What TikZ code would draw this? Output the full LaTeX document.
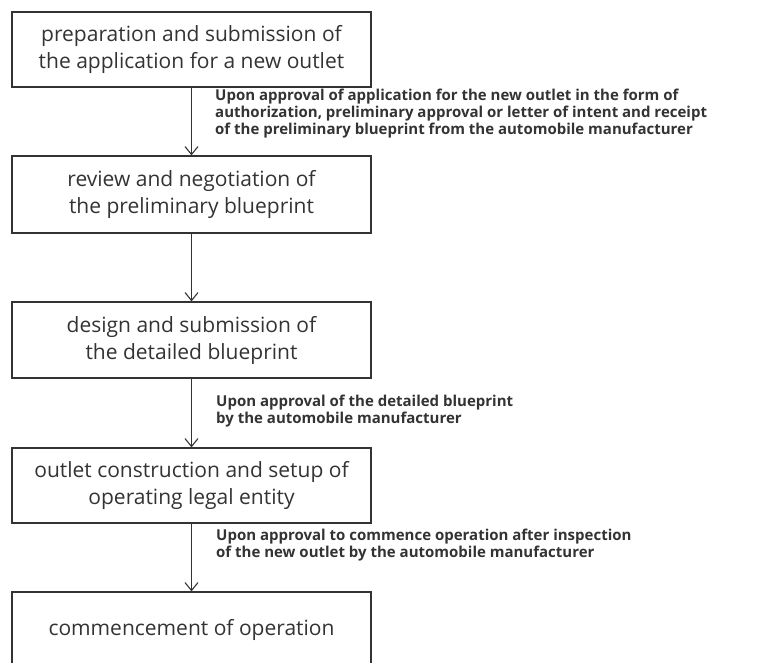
\documentclass[tikz,border=0pt]{standalone}
\usepackage{fontspec}
\setmainfont{Open Sans}
\usetikzlibrary{arrows.meta}
\definecolor{ink}{HTML}{333333}
\begin{document}
\begin{tikzpicture}[x=1pt,y=1pt,
  stepbox/.style={draw=ink,line width=1.2pt,minimum width=359pt,inner sep=0pt,align=center,
     font=\fontsize{21}{27}\selectfont,text=ink},
  conn/.style={draw=ink,line width=1.1pt,-{Straight Barb[length=8pt,width=13pt,line width=1.1pt]}},
  cond/.style={anchor=north west,align=left,inner sep=0pt,font=\bfseries\fontsize{15}{16.8}\selectfont,text=ink}]
\useasboundingbox (0,0) rectangle (770,-663);
\begin{scope}
\clip (0,0) rectangle (770,-663);
\node[stepbox,minimum height=75pt] (b1) at (191.5,-49.5) {preparation and submission of\\the application for a new outlet};
\node[stepbox,minimum height=77pt] (b2) at (191.5,-194.5) {review and negotiation of\\the preliminary blueprint};
\node[stepbox,minimum height=76pt] (b3) at (191.5,-340) {design and submission of\\the detailed blueprint};
\node[stepbox,minimum height=75pt] (b4) at (191.5,-485.5) {outlet construction and setup of\\operating legal entity};
\node[stepbox,minimum height=150pt] (b5) at (191.5,-667) {};
\node[font=\fontsize{21}{27}\selectfont,text=ink] (t5) at (191.5,-630) {commencement of operation};
\end{scope}
\draw[conn] (b1.south) -- (b2.north);
\draw[conn] (b2.south) -- (b3.north);
\draw[conn] (b3.south) -- (b4.north);
\draw[conn] (b4.south) -- (b5.north);
\node[cond] (c1) at (215,-89) {Upon approval of application for the new outlet in the form of\\authorization, preliminary approval or letter of intent and receipt\\of the preliminary blueprint from the automobile manufacturer};
\node[cond] (c2) at (216,-395) {Upon approval of the detailed blueprint\\by the automobile manufacturer};
\node[cond] (c3) at (216,-529) {Upon approval to commence operation after inspection\\of the new outlet by the automobile manufacturer};
\end{tikzpicture}
\end{document}
